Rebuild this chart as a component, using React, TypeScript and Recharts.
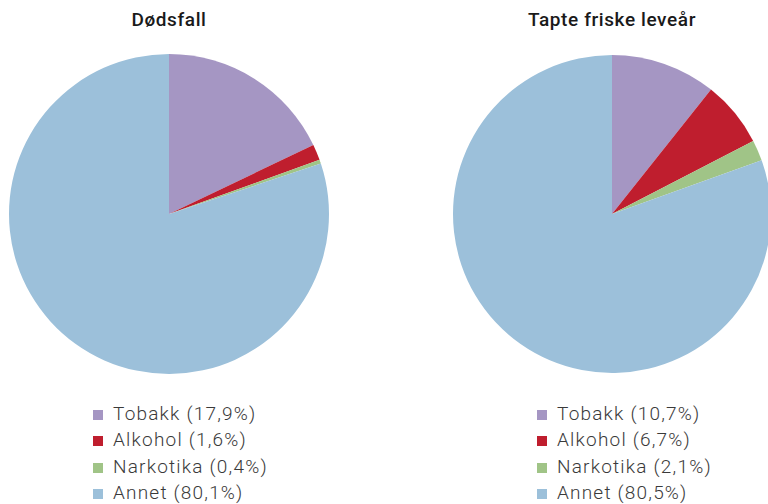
import React from "react";
import { PieChart, Pie, Cell } from "recharts";

const categories = ["Tobakk", "Alkohol", "Narkotika", "Annet"];
const colors = ["#A596C3", "#BF1E2E", "#A0C487", "#9CC0DA"];
const deathsValues = [17.9, 1.6, 0.4, 80.1];
const healthyYearsValues = [10.7, 6.7, 2.1, 80.5];
const deathsLabels = ["17,9%", "1,6%", "0,4%", "80,1%"];
const healthyYearsLabels = ["10,7%", "6,7%", "2,1%", "80,5%"];
const titles = ["Dødsfall", "Tapte friske leveår"];

const deathsData = categories.map((name, i) => ({ name, value: deathsValues[i] }));
const healthyData = categories.map((name, i) => ({ name, value: healthyYearsValues[i] }));

const titleStyle: React.CSSProperties = {
  position: "absolute",
  top: 8,
  width: 300,
  textAlign: "center",
  fontFamily: "Roboto, sans-serif",
  fontWeight: 500,
  fontSize: 19,
  letterSpacing: 0.6,
  color: "#1a1a1a",
};

function LegendBlock({ left, labels }: { left: number; labels: string[] }) {
  return (
    <div style={{ position: "absolute", left, top: 400 }}>
      {categories.map((c, i) => (
        <div
          key={c}
          style={{
            display: "flex",
            alignItems: "center",
            height: 26.5,
            fontFamily: "Roboto, sans-serif",
            fontWeight: 300,
            fontSize: 19,
            letterSpacing: 1.2,
            color: "#3a3a3a",
            whiteSpace: "nowrap",
          }}
        >
          <span
            style={{
              display: "inline-block",
              width: 10,
              height: 10,
              background: colors[i],
              marginRight: 10,
              marginTop: 3,
            }}
          />
          <span>{`${c} (${labels[i]})`}</span>
        </div>
      ))}
    </div>
  );
}

export default function App() {
  return (
    <div style={{ position: "fixed", left: 0, top: 0, width: 768, height: 504, background: "#fff", overflow: "hidden" }}>
      <PieChart
        width={768}
        height={504}
        margin={{ top: 0, right: 0, bottom: 0, left: 0 }}
        style={{ position: "absolute", left: 0, top: 0 }}
      >
        <Pie
          data={deathsData}
          dataKey="value"
          nameKey="name"
          cx={169}
          cy={214}
          outerRadius={160}
          startAngle={90}
          endAngle={-270}
          stroke="none"
          isAnimationActive={false}
        >
          {deathsData.map((d, i) => (
            <Cell key={d.name} fill={colors[i]} />
          ))}
        </Pie>
        <Pie
          data={healthyData}
          dataKey="value"
          nameKey="name"
          cx={612}
          cy={214}
          outerRadius={159}
          startAngle={90}
          endAngle={-270}
          stroke="none"
          isAnimationActive={false}
        >
          {healthyData.map((d, i) => (
            <Cell key={d.name} fill={colors[i]} />
          ))}
        </Pie>
      </PieChart>
      <div style={{ ...titleStyle, left: 169 - 150 }}>{titles[0]}</div>
      <div style={{ ...titleStyle, left: 612 - 150 }}>{titles[1]}</div>
      <LegendBlock left={93} labels={deathsLabels} />
      <LegendBlock left={537} labels={healthyYearsLabels} />
    </div>
  );
}
